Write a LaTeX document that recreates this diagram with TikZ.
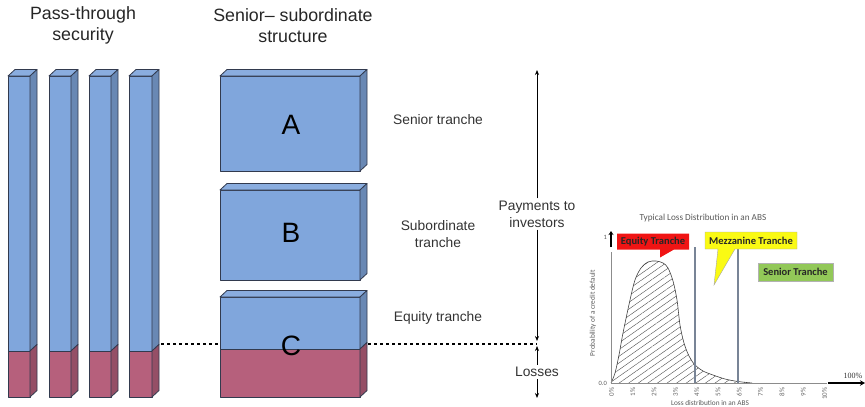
\documentclass[tikz,border=0pt]{standalone}
\usepackage{fontspec}
\setmainfont{Liberation Sans}
\newfontfamily\chartfont{Carlito}
\newfontfamily\serifnum{Liberation Serif}
\usetikzlibrary{arrows.meta,patterns.meta}
\definecolor{blueF}{RGB}{128,166,220}
\definecolor{redF}{RGB}{182,96,124}
\definecolor{edgeC}{RGB}{50,58,78}
\definecolor{vlineC}{RGB}{120,132,150}
\definecolor{eqRed}{RGB}{240,20,20}
\definecolor{mzYel}{RGB}{250,250,20}
\definecolor{snGrn}{RGB}{146,200,88}
\newcommand\myslab[5]{%
  \filldraw[boxline,fill=#5] (#1,#2) rectangle (#3,#4);
  \filldraw[boxline,fill=#5!92!white] (#1,#2) -- (#1+7,#2-6.5) -- (#3+7,#2-6.5) -- (#3,#2) -- cycle;
  \filldraw[boxline,fill=#5!82!black] (#3,#2) -- (#3+7,#2-6.5) -- (#3+7,#4-6.5) -- (#3,#4) -- cycle;
}
\newcommand\mytwo[5]{%
  \filldraw[boxline,fill=blueF] (#1,#2) rectangle (#3,#5);
  \filldraw[boxline,fill=redF] (#1,#5) rectangle (#3,#4);
  \filldraw[boxline,fill=blueF!92!white] (#1,#2) -- (#1+7,#2-6.5) -- (#3+7,#2-6.5) -- (#3,#2) -- cycle;
  \filldraw[boxline,fill=blueF!82!black] (#3,#2) -- (#3+7,#2-6.5) -- (#3+7,#5-6.5) -- (#3,#5) -- cycle;
  \filldraw[boxline,fill=redF!82!black] (#3,#5) -- (#3+7,#5-6.5) -- (#3+7,#4-6.5) -- (#3,#4) -- cycle;
}
\begin{document}
\begin{tikzpicture}[x=1pt,y=-1pt,
  boxline/.style={draw=edgeC,line width=0.8pt,line join=round},
  title/.style={align=center,font=\fontsize{17.8}{21}\selectfont,text=black!85},
  lbl/.style={align=center,font=\fontsize{13.8}{17}\selectfont,text=black!80},
  letter/.style={font=\fontsize{28}{30}\selectfont,text=black},
  arr/.style={-{Stealth[length=5pt,width=4pt]},line width=0.7pt},
  dotline/.style={line width=2.6pt,dash pattern=on 3pt off 3pt},
  ctext/.style={font=\chartfont\fontsize{7.3}{8}\selectfont,text=black!65},
  tick/.style={font=\chartfont\fontsize{7}{8}\selectfont,text=black!60,rotate=90,anchor=east,inner sep=0.5pt},
  callout/.style={font=\chartfont\bfseries\fontsize{10.5}{11}\selectfont,text=black!85,inner sep=0pt}
]
\useasboundingbox (0,0) rectangle (865,407);

% titles
\node[title] (t1) at (83,25.5) {Pass-through\\security};
\node[title] (t2) at (293,25.5) {Senior– subordinate\\structure};

% dotted level line (behind boxes)
\coordinate (d1) at (155,344);
\coordinate (d2) at (225,344);
\coordinate (d3) at (362,344);
\coordinate (d4) at (537,344);
\draw[dotline] (d1) -- (d2);
\draw[dotline] (d3) -- (d4);

% pass-through bars
\mytwo{8}{76}{30}{397}{351}
\mytwo{49}{76}{71}{397}{351}
\mytwo{89}{76}{111}{397}{351}
\mytwo{129}{76}{152}{397}{351}

% senior-subordinate blocks
\myslab{220}{76}{360}{171}{blueF}
\myslab{220}{190}{360}{280}{blueF}
\mytwo{220}{297}{360}{397}{349}
\node[letter] (A) at (291,125) {A};
\node[letter] (B) at (291,233) {B};
\node[letter] (C) at (291,346) {C};

% tranche labels
\node[lbl] (sen) at (438,120) {Senior tranche};
\node[lbl] (sub) at (438,234.5) {Subordinate\\tranche};
\node[lbl] (eq) at (438,318) {Equity tranche};

% payments / losses arrows
\coordinate (pt) at (537,70);
\coordinate (pm) at (537,341);
\node[lbl,fill=white,inner sep=2pt] (pay) at (537,214) {Payments to\\investors};
\draw[arr] (pay) -- (pt);
\draw[arr] (pay) -- (pm);
\coordinate (lt) at (537,346);
\coordinate (lb) at (537,398);
\node[lbl,fill=white,inner sep=2pt] (loss) at (537,372) {Losses};
\draw[arr] (loss) -- (lt);
\draw[arr] (loss) -- (lb);

% ---------------- chart ----------------
\node[ctext,font=\chartfont\fontsize{9.2}{10}\selectfont] (ct) at (703,218) {Typical Loss Distribution in an ABS};
\fill[pattern={Lines[angle=35,distance=5.5pt,line width=0.4pt]},pattern color=black!70]
  plot[smooth,tension=0.55] coordinates {(611,383) (615,373) (619,355) (623,333) (630,300) (635,280) (641,268) (648,262) (656,261) (663,263) (668,268) (673,281) (677,300) (680,325) (684,343) (689,356) (695,365) (703,371) (713,375) (725,379) (738,381.5) (752,383)} -- cycle;
\draw[black!75,line width=0.6pt]
  plot[smooth,tension=0.55] coordinates {(611,383) (615,373) (619,355) (623,333) (630,300) (635,280) (641,268) (648,262) (656,261) (663,263) (668,268) (673,281) (677,300) (680,325) (684,343) (689,356) (695,365) (703,371) (713,375) (725,379) (738,381.5) (752,383)};

% axes
\coordinate (o) at (611,383);
\coordinate (ytop) at (611,252);
\coordinate (xend) at (827,383);
\draw[black!45,line width=0.5pt] (o) -- (ytop);
\draw[black!45,line width=0.5pt] (o) -- (xend);
\coordinate (ya1) at (611,247);
\coordinate (ya2) at (611,231);
\draw[line width=2pt,-{Stealth[length=4pt,width=5pt]}] (ya1) -- (ya2);
\coordinate (xa1) at (828,383);
\coordinate (xa2) at (865,383);
\draw[line width=2.2pt,-{Stealth[length=5pt,width=5.5pt]}] (xa1) -- (xa2);
\node[font=\serifnum\fontsize{8}{9}\selectfont,text=black!80] (hp) at (853,376) {100\%};
\node[ctext,font=\chartfont\fontsize{6.5}{7}\selectfont,anchor=east,inner sep=1pt] (one) at (608,237) {1};
\node[ctext,font=\chartfont\fontsize{6.5}{7}\selectfont,anchor=east,inner sep=1pt] (zero) at (608,383) {0.0};
\foreach \i in {0,...,10} {
  \node[tick] (tk\i) at (611.5+21.3*\i,387) {\i\%};
}
\node[ctext] (xl) at (710,402.5) {Loss distribution in an ABS};
\node[ctext,rotate=90] (yl) at (593,313) {Probability of a credit default};

% tranche boundaries
\coordinate (v4a) at (695,247);
\coordinate (v4b) at (695,383);
\coordinate (v6a) at (738,247);
\coordinate (v6b) at (738,383);
\draw[vlineC,line width=1.3pt] (v4a) -- (v4b);
\draw[vlineC,line width=1.3pt] (v6a) -- (v6b);

% callouts
\fill[eqRed] (617,233.5) -- (689,233.5) -- (689,249.5) -- (674,249.5) -- (660,257.5) -- (660,249.5) -- (617,249.5) -- cycle;
\node[callout] (ceq) at (653,241.5) {Equity Tranche};
\filldraw[fill=mzYel,draw=black!35,line width=0.4pt] (705,232) -- (797,232) -- (797,249) -- (735,249) -- (714,285) -- (718,249) -- (705,249) -- cycle;
\node[callout] (cmz) at (751,240.5) {Mezzanine Tranche};
\node[callout,fill=snGrn,draw=black!30,line width=0.4pt,minimum width=75pt,minimum height=18pt] (csn) at (795.5,272) {Senior Tranche};
\end{tikzpicture}
\end{document}
